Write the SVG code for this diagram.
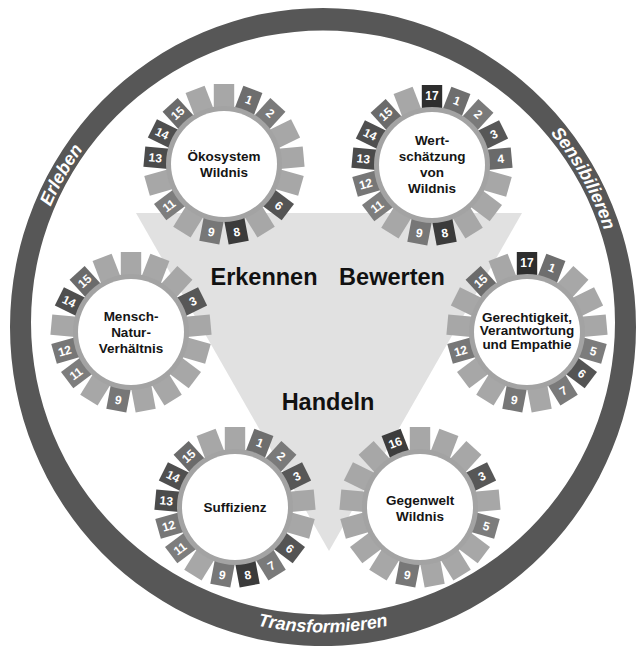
<svg xmlns="http://www.w3.org/2000/svg" width="642" height="646" viewBox="0 0 642 646">
<style>
  .t{fill:#a7a7a7}
  .band{fill:#a3a3a3}
  .core{fill:#fff}
  .s1{fill:#6e6e6e}.s2{fill:#7a7a7a}.s3{fill:#575757}.s4{fill:#6a6a6a}
  .s5{fill:#7c7c7c}.s6{fill:#545454}.s7{fill:#7a7a7a}.s8{fill:#3b3b3b}
  .s9{fill:#777}.s11{fill:#7d7d7d}.s12{fill:#777}.s13{fill:#4b4b4b}
  .s14{fill:#4f4f4f}.s15{fill:#6b6b6b}.s16{fill:#3d3d3d}.s17{fill:#2e2e2e}
  .num{font-family:"Liberation Sans",Arial,sans-serif;font-weight:bold;font-size:12px;fill:#fff;text-anchor:middle}
  .lbl{font-family:"Liberation Sans",Arial,sans-serif;font-weight:bold;font-size:13.5px;fill:#151515;text-anchor:middle}
  .big{font-family:"Liberation Sans",Arial,sans-serif;font-weight:bold;font-size:23.5px;fill:#111;text-anchor:middle}
  .ringtxt{font-family:"Liberation Sans",Arial,sans-serif;font-weight:bold;font-style:italic;font-size:18px;fill:#fff;text-anchor:middle}
</style>
<defs>
  <rect id="tile" x="-10.2" y="-80" width="20.4" height="25"/>
  <path id="arc-cw" d="M 27 322.5 A 296 296 0 0 1 619 322.5 A 296 296 0 0 1 27 322.5"/>
  <path id="arc-low" d="M 13 322.5 A 310 310 0 0 0 633 322.5"/>
</defs>

<rect width="642" height="646" fill="#fff"/>

<!-- outer ring -->
<g id="ring">
  <path fill="#575757" fill-rule="evenodd" d="M 10 327 A 313 319 0 1 0 636 327 A 313 319 0 1 0 10 327 Z M 31 322.5 A 292 292 0 1 1 615 322.5 A 292 292 0 1 1 31 322.5 Z"/>
  <text class="ringtxt"><textPath href="#arc-cw" startOffset="152">Erleben</textPath></text>
  <text class="ringtxt"><textPath href="#arc-cw" startOffset="780">Sensibilieren</textPath></text>
  <text class="ringtxt"><textPath href="#arc-low" startOffset="50%">Transformieren</textPath></text>
</g>

<!-- central triangle -->
<g id="triangle">
  <polygon points="136,213 522,213 329,551" fill="#e1e1e1"/>
  <text class="big" x="264" y="285">Erkennen</text>
  <text class="big" x="392" y="285">Bewerten</text>
  <text class="big" x="328" y="410">Handeln</text>
</g>

<!-- Ökosystem Wildnis -->
<g id="node-oekosystem" transform="translate(224,164)">
  <use href="#tile" class="s1" transform="rotate(21.18)"/>
  <use href="#tile" class="s2" transform="rotate(42.35)"/>
  <use href="#tile" class="t" transform="rotate(63.53)"/>
  <use href="#tile" class="t" transform="rotate(84.71)"/>
  <use href="#tile" class="t" transform="rotate(105.88)"/>
  <use href="#tile" class="s6" transform="rotate(127.06)"/>
  <use href="#tile" class="t" transform="rotate(148.24)"/>
  <use href="#tile" class="s8" transform="rotate(169.41)"/>
  <use href="#tile" class="s9" transform="rotate(190.59)"/>
  <use href="#tile" class="t" transform="rotate(211.76)"/>
  <use href="#tile" class="s11" transform="rotate(232.94)"/>
  <use href="#tile" class="t" transform="rotate(254.12)"/>
  <use href="#tile" class="s13" transform="rotate(275.29)"/>
  <use href="#tile" class="s14" transform="rotate(296.47)"/>
  <use href="#tile" class="s15" transform="rotate(317.65)"/>
  <use href="#tile" class="t" transform="rotate(338.82)"/>
  <use href="#tile" class="t"/>
  <circle r="58" class="band"/>
  <circle r="53" class="core"/>
  <text class="num" dy=".36em" transform="rotate(21.18) translate(0,-69)">1</text>
  <text class="num" dy=".36em" transform="rotate(42.35) translate(0,-69)">2</text>
  <text class="num" dy=".36em" transform="rotate(127.06) translate(0,-69) rotate(-90)">6</text>
  <text class="num" dy=".36em" transform="rotate(169.41) translate(0,-69) rotate(-180)">8</text>
  <text class="num" dy=".36em" transform="rotate(190.59) translate(0,-69) rotate(-180)">9</text>
  <text class="num" dy=".36em" transform="rotate(232.94) translate(0,-69) rotate(-270)">11</text>
  <text class="num" dy=".36em" transform="rotate(275.29) translate(0,-69) rotate(-270)">13</text>
  <text class="num" dy=".36em" transform="rotate(296.47) translate(0,-69) rotate(-270)">14</text>
  <text class="num" dy=".36em" transform="rotate(317.65) translate(0,-69) rotate(-360)">15</text>
  <text class="lbl" y="-3">Ökosystem</text>
  <text class="lbl" y="13">Wildnis</text>
</g>

<!-- Wertschätzung von Wildnis -->
<g id="node-wertschaetzung" transform="translate(432,165)">
  <use href="#tile" class="s1" transform="rotate(21.18)"/>
  <use href="#tile" class="s2" transform="rotate(42.35)"/>
  <use href="#tile" class="s3" transform="rotate(63.53)"/>
  <use href="#tile" class="s4" transform="rotate(84.71)"/>
  <use href="#tile" class="t" transform="rotate(105.88)"/>
  <use href="#tile" class="t" transform="rotate(127.06)"/>
  <use href="#tile" class="t" transform="rotate(148.24)"/>
  <use href="#tile" class="s8" transform="rotate(169.41)"/>
  <use href="#tile" class="s9" transform="rotate(190.59)"/>
  <use href="#tile" class="t" transform="rotate(211.76)"/>
  <use href="#tile" class="s11" transform="rotate(232.94)"/>
  <use href="#tile" class="s12" transform="rotate(254.12)"/>
  <use href="#tile" class="s13" transform="rotate(275.29)"/>
  <use href="#tile" class="s14" transform="rotate(296.47)"/>
  <use href="#tile" class="s15" transform="rotate(317.65)"/>
  <use href="#tile" class="t" transform="rotate(338.82)"/>
  <use href="#tile" class="s17"/>
  <circle r="58" class="band"/>
  <circle r="53" class="core"/>
  <text class="num" dy=".36em" transform="translate(0,-69)">17</text>
  <text class="num" dy=".36em" transform="rotate(21.18) translate(0,-69)">1</text>
  <text class="num" dy=".36em" transform="rotate(42.35) translate(0,-69)">2</text>
  <text class="num" dy=".36em" transform="rotate(63.53) translate(0,-69) rotate(-90)">3</text>
  <text class="num" dy=".36em" transform="rotate(84.71) translate(0,-69) rotate(-90)">4</text>
  <text class="num" dy=".36em" transform="rotate(169.41) translate(0,-69) rotate(-180)">8</text>
  <text class="num" dy=".36em" transform="rotate(190.59) translate(0,-69) rotate(-180)">9</text>
  <text class="num" dy=".36em" transform="rotate(232.94) translate(0,-69) rotate(-270)">11</text>
  <text class="num" dy=".36em" transform="rotate(254.12) translate(0,-69) rotate(-270)">12</text>
  <text class="num" dy=".36em" transform="rotate(275.29) translate(0,-69) rotate(-270)">13</text>
  <text class="num" dy=".36em" transform="rotate(296.47) translate(0,-69) rotate(-270)">14</text>
  <text class="num" dy=".36em" transform="rotate(317.65) translate(0,-69) rotate(-360)">15</text>
  <text class="lbl" y="-20">Wert-</text>
  <text class="lbl" y="-4">schätzung</text>
  <text class="lbl" y="12">von</text>
  <text class="lbl" y="28">Wildnis</text>
</g>

<!-- Mensch-Natur-Verhältnis -->
<g id="node-mensch-natur" transform="translate(131,332)">
  <use href="#tile" class="t" transform="rotate(21.18)"/>
  <use href="#tile" class="t" transform="rotate(42.35)"/>
  <use href="#tile" class="s3" transform="rotate(63.53)"/>
  <use href="#tile" class="t" transform="rotate(84.71)"/>
  <use href="#tile" class="t" transform="rotate(105.88)"/>
  <use href="#tile" class="t" transform="rotate(127.06)"/>
  <use href="#tile" class="t" transform="rotate(148.24)"/>
  <use href="#tile" class="t" transform="rotate(169.41)"/>
  <use href="#tile" class="s9" transform="rotate(190.59)"/>
  <use href="#tile" class="t" transform="rotate(211.76)"/>
  <use href="#tile" class="s11" transform="rotate(232.94)"/>
  <use href="#tile" class="s12" transform="rotate(254.12)"/>
  <use href="#tile" class="t" transform="rotate(275.29)"/>
  <use href="#tile" class="s14" transform="rotate(296.47)"/>
  <use href="#tile" class="s15" transform="rotate(317.65)"/>
  <use href="#tile" class="t" transform="rotate(338.82)"/>
  <use href="#tile" class="t"/>
  <circle r="58" class="band"/>
  <circle r="53" class="core"/>
  <text class="num" dy=".36em" transform="rotate(63.53) translate(0,-69) rotate(-90)">3</text>
  <text class="num" dy=".36em" transform="rotate(190.59) translate(0,-69) rotate(-180)">9</text>
  <text class="num" dy=".36em" transform="rotate(232.94) translate(0,-69) rotate(-270)">11</text>
  <text class="num" dy=".36em" transform="rotate(254.12) translate(0,-69) rotate(-270)">12</text>
  <text class="num" dy=".36em" transform="rotate(296.47) translate(0,-69) rotate(-270)">14</text>
  <text class="num" dy=".36em" transform="rotate(317.65) translate(0,-69) rotate(-360)">15</text>
  <text class="lbl" y="-11">Mensch-</text>
  <text class="lbl" y="5">Natur-</text>
  <text class="lbl" y="21">Verhältnis</text>
</g>

<!-- Gerechtigkeit, Verantwortung und Empathie -->
<g id="node-gerechtigkeit" transform="translate(527,332)">
  <use href="#tile" class="s1" transform="rotate(21.18)"/>
  <use href="#tile" class="t" transform="rotate(42.35)"/>
  <use href="#tile" class="t" transform="rotate(63.53)"/>
  <use href="#tile" class="t" transform="rotate(84.71)"/>
  <use href="#tile" class="s5" transform="rotate(105.88)"/>
  <use href="#tile" class="s6" transform="rotate(127.06)"/>
  <use href="#tile" class="s7" transform="rotate(148.24)"/>
  <use href="#tile" class="t" transform="rotate(169.41)"/>
  <use href="#tile" class="s9" transform="rotate(190.59)"/>
  <use href="#tile" class="t" transform="rotate(211.76)"/>
  <use href="#tile" class="t" transform="rotate(232.94)"/>
  <use href="#tile" class="s12" transform="rotate(254.12)"/>
  <use href="#tile" class="t" transform="rotate(275.29)"/>
  <use href="#tile" class="t" transform="rotate(296.47)"/>
  <use href="#tile" class="s15" transform="rotate(317.65)"/>
  <use href="#tile" class="t" transform="rotate(338.82)"/>
  <use href="#tile" class="s17"/>
  <circle r="58" class="band"/>
  <circle r="53" class="core"/>
  <text class="num" dy=".36em" transform="translate(0,-69)">17</text>
  <text class="num" dy=".36em" transform="rotate(21.18) translate(0,-69)">1</text>
  <text class="num" dy=".36em" transform="rotate(105.88) translate(0,-69) rotate(-90)">5</text>
  <text class="num" dy=".36em" transform="rotate(127.06) translate(0,-69) rotate(-90)">6</text>
  <text class="num" dy=".36em" transform="rotate(148.24) translate(0,-69) rotate(-180)">7</text>
  <text class="num" dy=".36em" transform="rotate(190.59) translate(0,-69) rotate(-180)">9</text>
  <text class="num" dy=".36em" transform="rotate(254.12) translate(0,-69) rotate(-270)">12</text>
  <text class="num" dy=".36em" transform="rotate(317.65) translate(0,-69) rotate(-360)">15</text>
  <text class="lbl" y="-10.5">Gerechtigkeit,</text>
  <text class="lbl" y="3">Verantwortung</text>
  <text class="lbl" y="16.5">und Empathie</text>
</g>

<!-- Suffizienz -->
<g id="node-suffizienz" transform="translate(235,507)">
  <use href="#tile" class="s1" transform="rotate(21.18)"/>
  <use href="#tile" class="s2" transform="rotate(42.35)"/>
  <use href="#tile" class="s3" transform="rotate(63.53)"/>
  <use href="#tile" class="t" transform="rotate(84.71)"/>
  <use href="#tile" class="t" transform="rotate(105.88)"/>
  <use href="#tile" class="s6" transform="rotate(127.06)"/>
  <use href="#tile" class="s7" transform="rotate(148.24)"/>
  <use href="#tile" class="s8" transform="rotate(169.41)"/>
  <use href="#tile" class="s9" transform="rotate(190.59)"/>
  <use href="#tile" class="t" transform="rotate(211.76)"/>
  <use href="#tile" class="s11" transform="rotate(232.94)"/>
  <use href="#tile" class="s12" transform="rotate(254.12)"/>
  <use href="#tile" class="s13" transform="rotate(275.29)"/>
  <use href="#tile" class="s14" transform="rotate(296.47)"/>
  <use href="#tile" class="s15" transform="rotate(317.65)"/>
  <use href="#tile" class="t" transform="rotate(338.82)"/>
  <use href="#tile" class="t"/>
  <circle r="58" class="band"/>
  <circle r="53" class="core"/>
  <text class="num" dy=".36em" transform="rotate(21.18) translate(0,-69)">1</text>
  <text class="num" dy=".36em" transform="rotate(42.35) translate(0,-69)">2</text>
  <text class="num" dy=".36em" transform="rotate(63.53) translate(0,-69) rotate(-90)">3</text>
  <text class="num" dy=".36em" transform="rotate(127.06) translate(0,-69) rotate(-90)">6</text>
  <text class="num" dy=".36em" transform="rotate(148.24) translate(0,-69) rotate(-180)">7</text>
  <text class="num" dy=".36em" transform="rotate(169.41) translate(0,-69) rotate(-180)">8</text>
  <text class="num" dy=".36em" transform="rotate(190.59) translate(0,-69) rotate(-180)">9</text>
  <text class="num" dy=".36em" transform="rotate(232.94) translate(0,-69) rotate(-270)">11</text>
  <text class="num" dy=".36em" transform="rotate(254.12) translate(0,-69) rotate(-270)">12</text>
  <text class="num" dy=".36em" transform="rotate(275.29) translate(0,-69) rotate(-270)">13</text>
  <text class="num" dy=".36em" transform="rotate(296.47) translate(0,-69) rotate(-270)">14</text>
  <text class="num" dy=".36em" transform="rotate(317.65) translate(0,-69) rotate(-360)">15</text>
  <text class="lbl" y="5">Suffizienz</text>
</g>

<!-- Gegenwelt Wildnis -->
<g id="node-gegenwelt" transform="translate(420,507)">
  <use href="#tile" class="t" transform="rotate(21.18)"/>
  <use href="#tile" class="t" transform="rotate(42.35)"/>
  <use href="#tile" class="s3" transform="rotate(63.53)"/>
  <use href="#tile" class="t" transform="rotate(84.71)"/>
  <use href="#tile" class="s5" transform="rotate(105.88)"/>
  <use href="#tile" class="t" transform="rotate(127.06)"/>
  <use href="#tile" class="t" transform="rotate(148.24)"/>
  <use href="#tile" class="t" transform="rotate(169.41)"/>
  <use href="#tile" class="s9" transform="rotate(190.59)"/>
  <use href="#tile" class="t" transform="rotate(211.76)"/>
  <use href="#tile" class="t" transform="rotate(232.94)"/>
  <use href="#tile" class="t" transform="rotate(254.12)"/>
  <use href="#tile" class="t" transform="rotate(275.29)"/>
  <use href="#tile" class="t" transform="rotate(296.47)"/>
  <use href="#tile" class="t" transform="rotate(317.65)"/>
  <use href="#tile" class="s16" transform="rotate(338.82)"/>
  <use href="#tile" class="t"/>
  <circle r="58" class="band"/>
  <circle r="53" class="core"/>
  <text class="num" dy=".36em" transform="rotate(63.53) translate(0,-69) rotate(-90)">3</text>
  <text class="num" dy=".36em" transform="rotate(105.88) translate(0,-69) rotate(-90)">5</text>
  <text class="num" dy=".36em" transform="rotate(190.59) translate(0,-69) rotate(-180)">9</text>
  <text class="num" dy=".36em" transform="rotate(338.82) translate(0,-69) rotate(-360)">16</text>
  <text class="lbl" y="-2">Gegenwelt</text>
  <text class="lbl" y="14">Wildnis</text>
</g>
</svg>
